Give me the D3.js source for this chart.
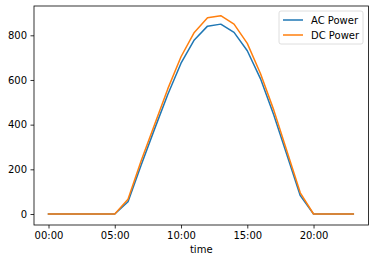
<!DOCTYPE html>
<html><head><meta charset="utf-8">
<script src="https://cdn.jsdelivr.net/npm/d3@7"></script>
<style>body{margin:0;background:#fff}svg{display:block}text{font-family:"DejaVu Sans",sans-serif;}</style>
</head><body>
<script>
const hours = d3.range(24);
const tickLabels = ["00:00","05:00","10:00","15:00","20:00"];
const tickHours = [0,5,10,15,20];
const yTicks = [0,200,400,600,800];
const acPower = [0,0,0,0,0,0,55,220,380,535,675,779,841,850,813,731,605,443,263,82,0,0,0,0];
const dcPower = [0,0,0,0,0,0,66,240,400,560,704,813,879,888,850,764,628,465,280,95,0,0,0,0];
const seriesNames = ["AC Power","DC Power"];
const colors = ["#1f77b4","#ff7f0e"];

const W=375,H=262;
const box={l:34,r:368.5,t:6,b:225};
const svg=d3.select("body").append("svg").attr("width",W).attr("height",H);
const x=d3.scaleLinear().domain([0,23]).range([48.5,353.3]);
const y=d3.scaleLinear().domain([0,800]).range([214,35.3]);

// x axis
const xa=svg.append("g").attr("transform",`translate(0,${box.b})`)
  .call(d3.axisBottom(x).tickValues(tickHours).tickFormat((d,i)=>tickLabels[i]).tickSize(3.5).tickPadding(3.5));
const ya=svg.append("g").attr("transform",`translate(${box.l},0)`)
  .call(d3.axisLeft(y).tickValues(yTicks).tickSize(3.5).tickPadding(3.5));
[xa,ya].forEach(a=>{a.select(".domain").remove();a.selectAll("line").attr("stroke","#000").attr("stroke-width",0.8);
  a.selectAll("text").attr("font-size","10px").attr("fill","#000").attr("font-family","DejaVu Sans");});

const line=d3.line().x((d,i)=>x(hours[i])).y(d=>y(d));
[acPower,dcPower].forEach((s,k)=>{
  svg.append("path").datum(s).attr("d",line).attr("fill","none").attr("stroke",colors[k]).attr("stroke-width",1.5).attr("stroke-linejoin","round").attr("stroke-linecap","square");
});

svg.append("rect").attr("x",box.l).attr("y",box.t).attr("width",box.r-box.l).attr("height",box.b-box.t)
  .attr("fill","none").attr("stroke","#000").attr("stroke-width",0.8);

svg.append("text").attr("x",(box.l+box.r)/2).attr("y",253).attr("text-anchor","middle").attr("font-size","10px").text("time");

// legend
const lg=svg.append("g");
lg.append("rect").attr("x",279).attr("y",11).attr("width",84).attr("height",33).attr("rx",2)
  .attr("fill","#fff").attr("fill-opacity",0.8).attr("stroke","#d6d6d6").attr("stroke-width",0.8);
seriesNames.forEach((n,k)=>{
  const yy=20+k*15;
  lg.append("line").attr("x1",283).attr("x2",303).attr("y1",yy).attr("y2",yy).attr("stroke",colors[k]).attr("stroke-width",1.5);
  lg.append("text").attr("x",311).attr("y",yy+3.5).attr("font-size","10px").text(n);
});
</script>
</body></html>
